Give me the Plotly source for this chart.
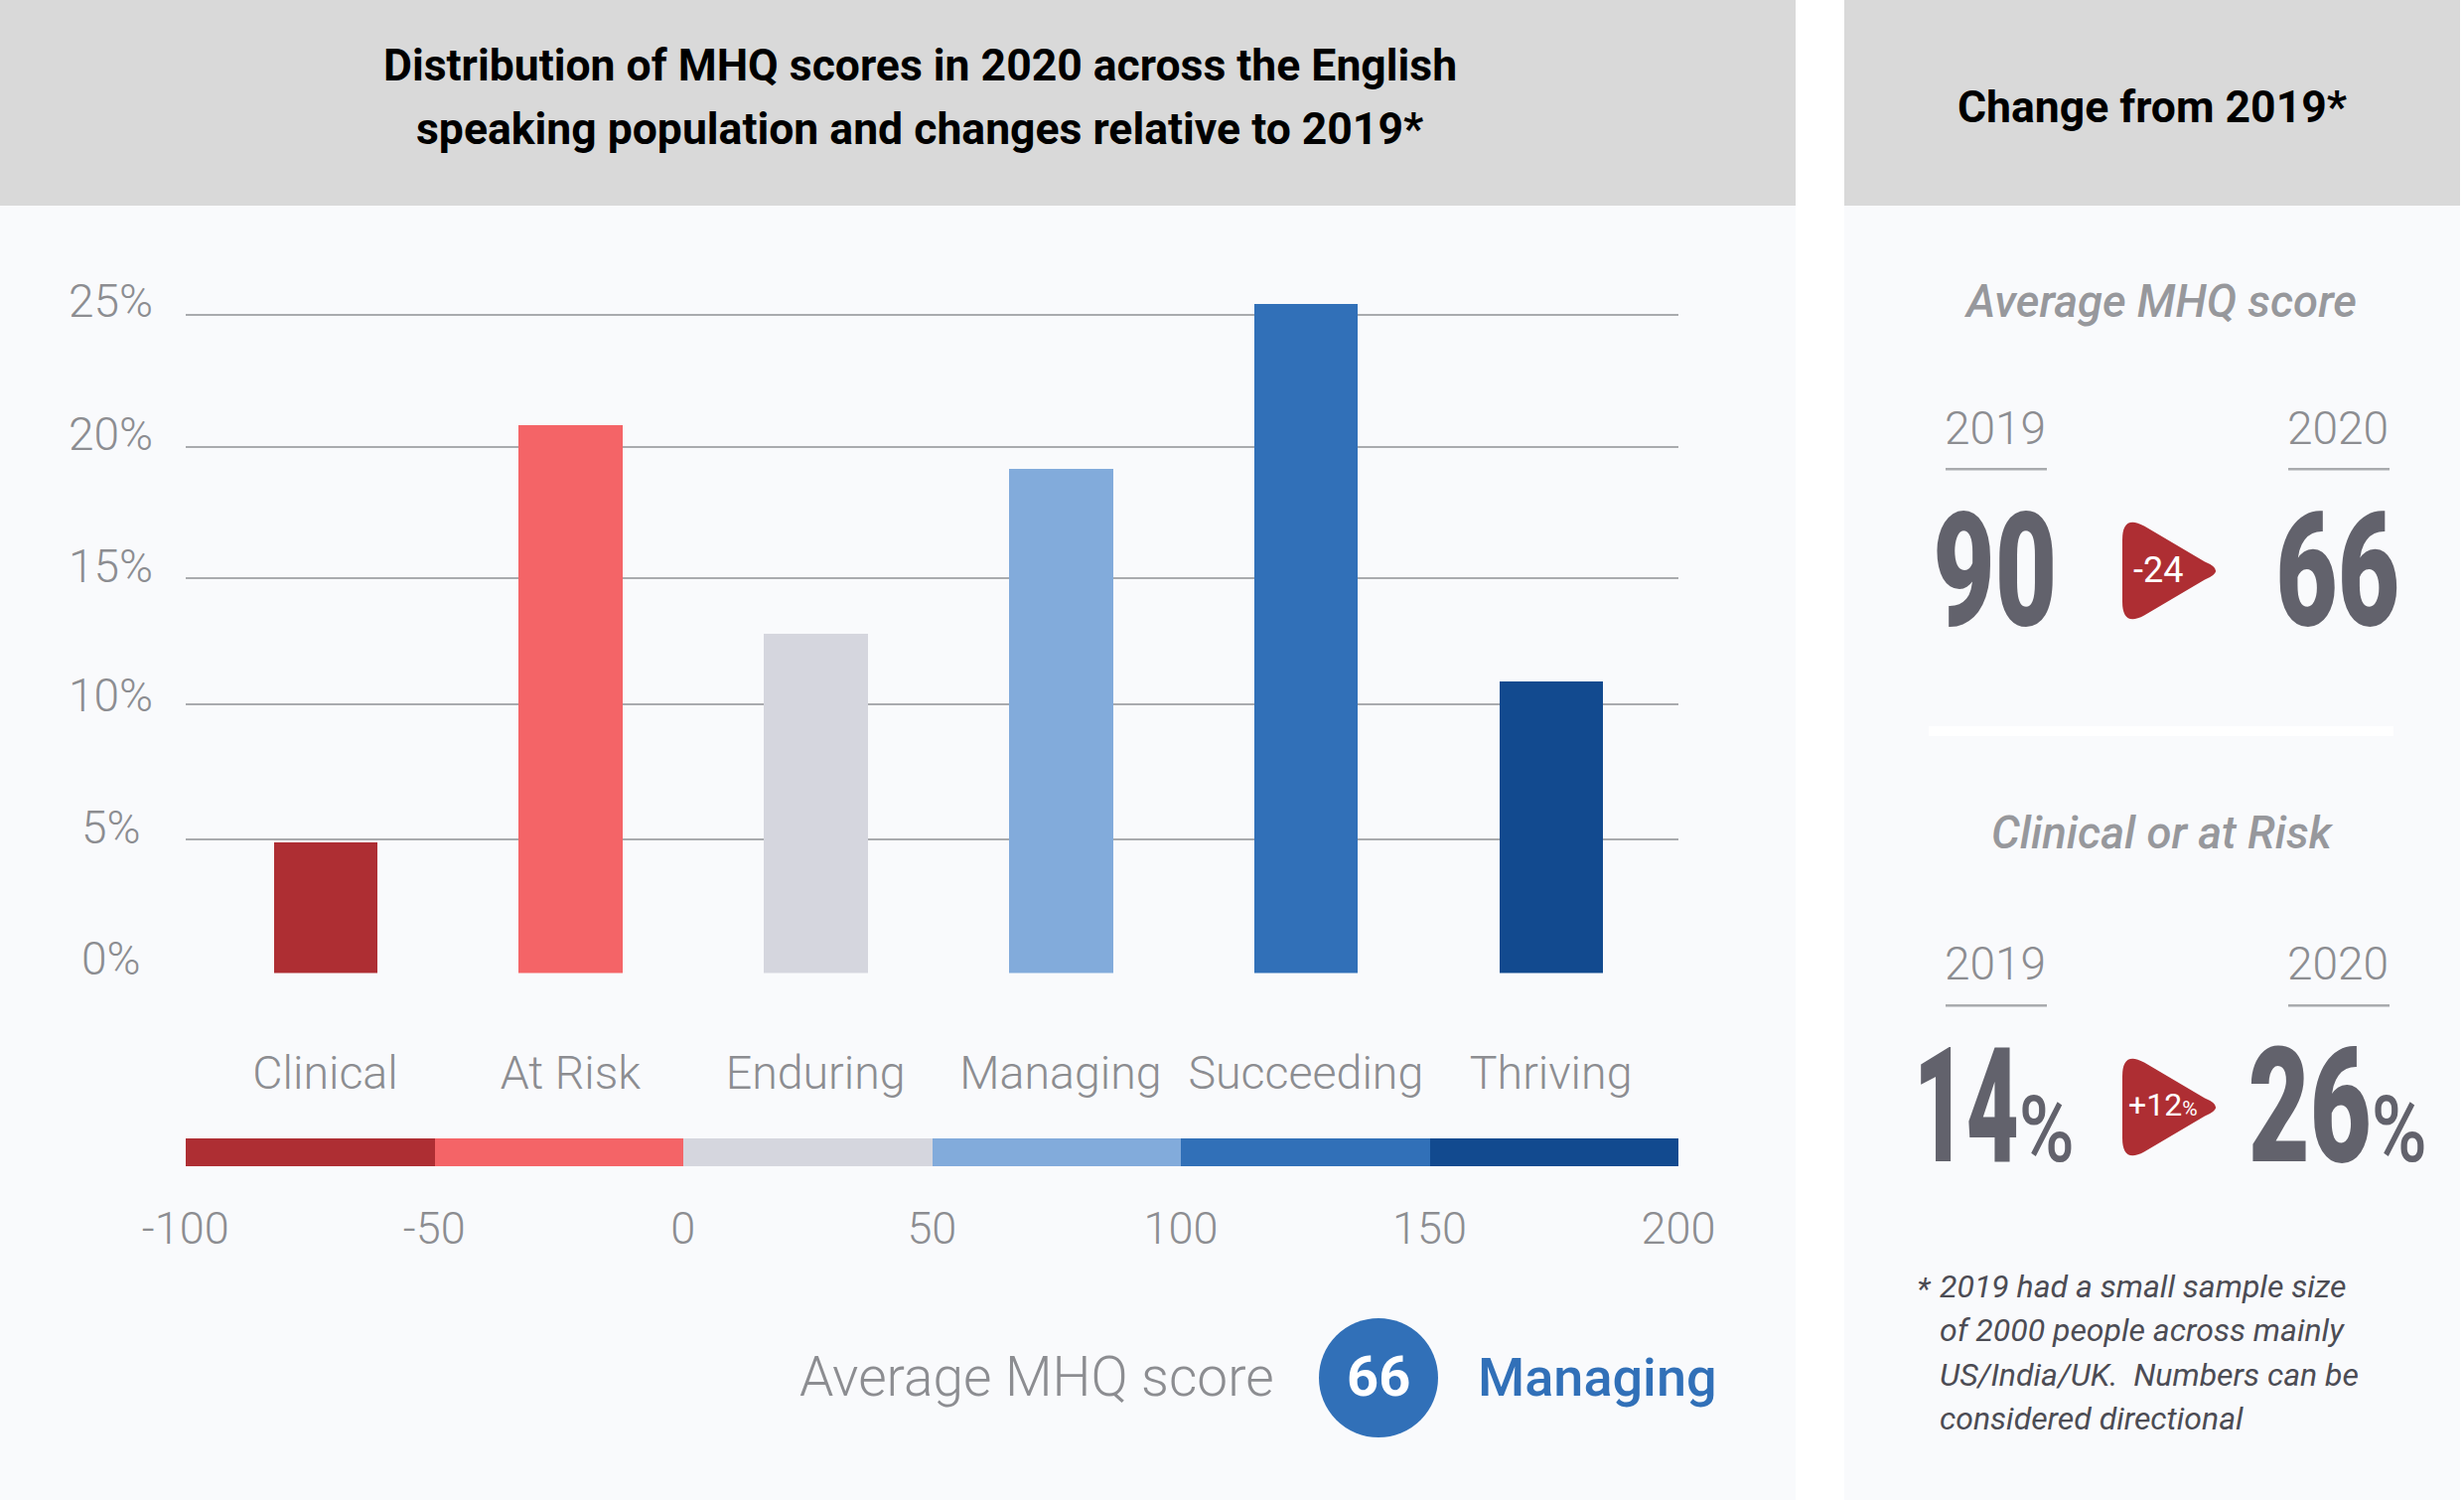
import plotly.graph_objects as go

W, H = 2481, 1510

# ---------- data ----------
categories = ["Clinical", "At Risk", "Enduring", "Managing", "Succeeding", "Thriving"]
share_pct = [4.98, 20.83, 12.9, 19.17, 25.43, 11.1]
bar_colors = ["#AE2E33", "#F46467", "#D5D6DE", "#82ABDB", "#3170B8", "#124A8F"]

grid_values = [0, 5.09, 10.19, 15, 20, 25]
grid_labels = ["0%", "5%", "10%", "15%", "20%", "25%"]

score_starts = [-100, -50, 0, 50, 100, 150]
score_widths = [50, 50, 50, 50, 50, 50]
score_ticks = [-100, -50, 0, 50, 100, 150, 200]
score_tick_labels = ["-100", "-50", "0", "50", "100", "150", "200"]

title_lines = ["Distribution of MHQ scores in 2020 across the English",
               "speaking population and changes relative to 2019*"]
side_title = "Change from 2019*"
avg_label = "Average MHQ score"
avg_value = "66"
avg_band = "Managing"
years = ["2019", "2020"]
avg_scores = ["90", "66"]
avg_change = "-24"
risk_title = "Clinical or at Risk"
risk_scores = ["14", "26"]
risk_change = "+12"
footnote_lines = ["2019 had a small sample size",
                  "of 2000 people across mainly",
                  "US/India/UK.  Numbers can be",
                  "considered directional"]

# ---------- colours ----------
GREY = "#97989C"
LIGHT = "#8C8D91"
DARK = "#62626C"
NOTE = "#4C4C54"
RED = "#AE2E33"
BLUE = "#3170B8"
LINE = "#A9ABAE"
PANEL = "#F9FAFC"
HEAD = "#D9D9D9"
FONT = "Roboto"


def fx(x):
    return x / W


def fy(y):
    return 1 - y / H


plot_l, plot_r = 186.7, 1690
zero_y, top_y = 979.5, 290.5
band_top, band_bot = 1146, 1174

fig = go.Figure()
fig.add_trace(go.Bar(x=categories, y=share_pct, width=0.423,
                     marker=dict(color=bar_colors, line=dict(width=0)),
                     xaxis="x", yaxis="y", showlegend=False))
fig.add_trace(go.Bar(x=score_widths, base=score_starts, y=[0] * 6, width=1, orientation="h",
                     marker=dict(color=bar_colors, line=dict(width=0)),
                     xaxis="x2", yaxis="y2", showlegend=False))

shapes = []


def rect(x0, y0, x1, y1, color):
    shapes.append(dict(type="rect", xref="paper", yref="paper", layer="below",
                       x0=fx(x0), x1=fx(x1), y0=fy(y0), y1=fy(y1),
                       fillcolor=color, line=dict(width=0)))


rect(0, 0, 1808, 207, HEAD)
rect(1857, 0, 2477, 207, HEAD)
rect(0, 207, 1808, 1510, PANEL)
rect(1857, 207, 2477, 1510, PANEL)
rect(1942, 731, 2410, 741, "#FFFFFF")
for x0 in (1959, 2304):
    for y0 in (471, 1011):
        rect(x0, y0, x0 + 102, y0 + 2.5, LINE)


def tri(x0, cy, half, x1, color):
    path = (
        f"M {fx(x0)},{fy(cy - half + 20)} "
        f"Q {fx(x0)},{fy(cy - half - 6)} {fx(x0 + 22)},{fy(cy - half + 6)} "
        f"L {fx(x1 - 12)},{fy(cy - 9)} "
        f"Q {fx(x1 + 10)},{fy(cy)} {fx(x1 - 12)},{fy(cy + 9)} "
        f"L {fx(x0 + 22)},{fy(cy + half - 6)} "
        f"Q {fx(x0)},{fy(cy + half + 6)} {fx(x0)},{fy(cy + half - 20)} Z"
    )
    shapes.append(dict(type="path", xref="paper", yref="paper", path=path,
                       fillcolor=color, line=dict(width=0)))


tri(2137, 574.5, 51, 2232, RED)
tri(2137, 1114.5, 51, 2232, RED)
shapes.append(dict(type="circle", xref="paper", yref="paper",
                   x0=fx(1328), x1=fx(1448), y0=fy(1447), y1=fy(1327),
                   fillcolor=BLUE, line=dict(width=0)))

ann = []


def text(x, y, s, size, color, weight=400, style="normal", anchor="center", family=FONT):
    ann.append(dict(xref="paper", yref="paper", x=fx(x), y=fy(y), text=s, showarrow=False,
                    xanchor=anchor, yanchor="middle",
                    font=dict(size=size, color=color, family=family, weight=weight, style=style)))


text(926, 66, title_lines[0], 44.5, "#000000", 700)
text(926, 130, title_lines[1], 44.5, "#000000", 700)
text(2167, 108, side_title, 44.5, "#000000", 700)

# y tick labels sit above their gridlines
label_shift = [15, 12, 9, 12, 13, 14]
for v, s, sh in zip(grid_values, grid_labels, label_shift):
    ann.append(dict(xref="paper", yref="y", x=fx(112), y=v, yshift=sh, text=s, showarrow=False,
                    xanchor="center", yanchor="middle",
                    font=dict(size=46, color=LIGHT, family=FONT, weight=300)))

text(1044, 1386, avg_label, 55, LIGHT, 300)
text(1388, 1386, avg_value, 56, "#FFFFFF", 700)
text(1486, 1386, avg_band, 54, BLUE, 500, anchor="left")

text(2175, 303, avg_label, 45.5, GREY, 500, "italic")
text(2177, 838, risk_title, 45.5, GREY, 500, "italic")

for cx, yr in zip((2009, 2354), years):
    text(cx, 431, yr, 46, LIGHT, 300)
    text(cx, 970, yr, 46, LIGHT, 300)

# big figures: condensed below by post_script (see CONDENSE)
text(2008, 574, avg_scores[0], 160, DARK, 900)
text(2353, 574, avg_scores[1], 160, DARK, 900)
text(2173, 574, avg_change, 36, "#FFFFFF", 400)

for cx, s in zip((2008, 2354), risk_scores):
    text(cx, 1114, f'<span style="font-size:162px">{s}</span>'
                   '<span style="font-size:92px;font-weight:500">%</span>',
         162, DARK, 900)

ann.append(dict(xref="paper", yref="paper", x=fx(2178), y=fy(1112), showarrow=False,
                xanchor="center", yanchor="middle",
                text=f'{risk_change}<span style="font-size:21px">%</span>',
                font=dict(size=32, color="#FFFFFF", family=FONT)))

text(1928, 1297, "*", 32, NOTE, 400, "italic", anchor="left")
for y, s in zip((1295, 1339, 1384, 1428), footnote_lines):
    text(1950.5, y, s, 32, NOTE, 400, "italic", anchor="left")

fig.update_layout(
    width=W, height=H, autosize=False,
    margin=dict(l=0, r=0, t=0, b=0, pad=0, autoexpand=False),
    paper_bgcolor="#FFFFFF", plot_bgcolor="rgba(0,0,0,0)",
    barmode="overlay", bargap=0, hovermode=False,
    shapes=shapes, annotations=ann,
    font=dict(family=FONT, color=GREY),
    xaxis=dict(domain=[fx(plot_l), fx(plot_r)], range=[-0.5705, 5.52], anchor="y", automargin=False,
               type="category", categoryorder="array", categoryarray=categories,
               tickangle=0, showgrid=False, zeroline=False, showline=False, ticks="",
               ticklabelstandoff=69, tickfont=dict(size=46.5, color=LIGHT, family=FONT, weight=300)),
    yaxis=dict(domain=[fy(zero_y), fy(top_y)], range=[0, 26], anchor="x", automargin=False,
               tickmode="array", tickvals=grid_values, ticktext=[""] * 6,
               showgrid=True, gridcolor=LINE, gridwidth=1.5, zeroline=False,
               showline=False, ticks=""),
    xaxis2=dict(domain=[fx(plot_l), fx(plot_r)], range=[-100, 200], anchor="y2", automargin=False,
                tickmode="array", tickvals=score_ticks, ticktext=score_tick_labels,
                showgrid=False, zeroline=False, showline=False, ticks="",
                ticklabelstandoff=32, tickfont=dict(size=45, color=LIGHT, family=FONT, weight=300)),
    yaxis2=dict(domain=[fy(band_bot), fy(band_top)], range=[-0.5, 0.5], anchor="x2", automargin=False,
                showticklabels=False, showgrid=False, zeroline=False, showline=False, ticks=""),
)

# the reference's big figures use a condensed face: narrow the real text with SVG textLength
CONDENSE = """
var gd = document.getElementById('{plot_id}');
document.body.style.margin = '0';
var widths = {'14': 106, '26': 124, '%': 56};
function squeeze(el, w) {
  el.setAttribute('textLength', w);
  el.setAttribute('lengthAdjust', 'spacingAndGlyphs');
}
function condense() {
  gd.querySelectorAll('.annotation-text').forEach(function (t) {
    var s = t.textContent, fs = parseFloat(t.style.fontSize);
    if (fs < 150) return;
    if (s === '90' || s === '66') { squeeze(t, 125); return; }
    t.querySelectorAll('tspan').forEach(function (sp) {
      var w = widths[sp.textContent];
      if (w) squeeze(sp, w);
    });
  });
}
condense();
gd.on('plotly_afterplot', condense);
setTimeout(condense, 200);
"""
fig.write_html("out.html", post_script=CONDENSE, config=dict(displayModeBar=False))
